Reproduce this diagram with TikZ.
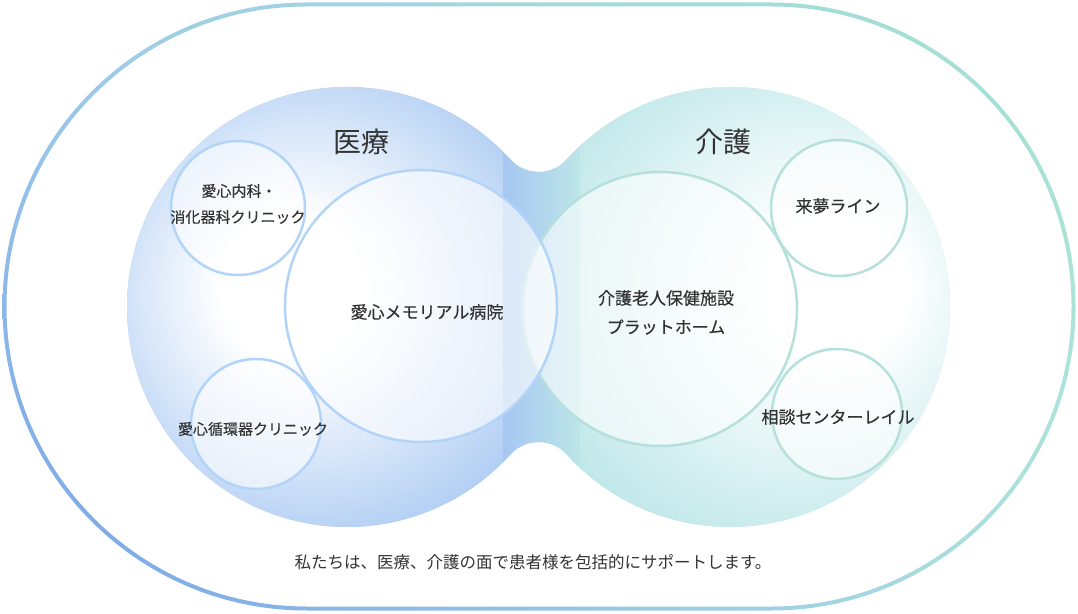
\documentclass[tikz,border=0pt]{standalone}
\usepackage{fontspec}
\usetikzlibrary{shadings}
\newfontfamily\jp{Noto Sans CJK JP}
\newfontfamily\jpb{Noto Sans CJK JP}[FakeBold=0.4]
\definecolor{blueA}{RGB}{166,199,242}
\definecolor{tealA}{RGB}{188,230,232}
\definecolor{strokeB}{RGB}{178,212,248}
\definecolor{strokeT}{RGB}{182,224,220}
\definecolor{txt}{RGB}{51,51,51}
\definecolor{ringLL}{RGB}{120,162,232}
\definecolor{ringUL}{RGB}{160,205,232}
\definecolor{ringUR}{RGB}{166,226,210}
\definecolor{ringLR}{RGB}{176,228,222}
\pgfdeclareradialshading{leftblob}{\pgfpoint{-7.6bp}{2.7bp}}{color(0bp)=(white); color(8bp)=(white); color(19bp)=(blueA!45!white); color(31bp)=(blueA); color(50bp)=(blueA)}
\pgfdeclareradialshading{rightblob}{\pgfpoint{14.5bp}{2.7bp}}{color(0bp)=(white); color(8bp)=(white); color(19bp)=(tealA!45!white); color(31bp)=(tealA); color(50bp)=(tealA)}
\tikzset{
  discB/.style={circle, draw=strokeB, line width=2.5pt, fill=white, fill opacity=0.6, draw opacity=1, inner sep=0pt},
  discT/.style={circle, draw=strokeT, line width=2.5pt, fill=white, fill opacity=0.6, draw opacity=1, inner sep=0pt},
  ttl/.style={text=txt, font=\jp\fontsize{28pt}{32pt}\selectfont, inner sep=0pt},
  lbl/.style={text=txt, font=\jpb\fontsize{17pt}{20pt}\selectfont, inner sep=0pt},
  slbl/.style={text=txt, font=\jpb\fontsize{15pt}{18pt}\selectfont, inner sep=0pt},
  captext/.style={text=txt, font=\jp\fontsize{16.5pt}{19pt}\selectfont, inner sep=0pt}
}
\begin{document}
\begin{tikzpicture}[x=1pt,y=1pt]
\useasboundingbox (0,0) rectangle (1078,613);
% outer ring
\shade[even odd rule, lower left=ringLL, upper left=ringUL, upper right=ringUR, lower right=ringLR]
  (306.5,610.5) arc[start angle=90,end angle=270,radius=304pt] -- (771.5,2.5) arc[start angle=-90,end angle=90,radius=304pt] -- cycle
  (306.5,606.5) arc[start angle=90,end angle=270,radius=300pt] -- (771.5,6.5) arc[start angle=-90,end angle=90,radius=300pt] -- cycle;
% blobs
\begin{scope}
\clip (510.2,453.6) arc[start angle=42.13,end angle=317.87,radius=220pt]
  arc[start angle=137.87,end angle=42.13,radius=38.2pt]
  arc[start angle=222.13,end angle=497.87,radius=220pt]
  arc[start angle=317.87,end angle=222.13,radius=38.2pt] -- cycle;
\fill[blueA] (0,0) rectangle (540,613);
\fill[tealA] (540,0) rectangle (1078,613);
\shade[shading=rightblob] (730,306) circle[radius=220pt];
\shade[shading=leftblob] (347,306) circle[radius=220pt];
\shade[left color=blueA, right color=tealA] (503,0) rectangle (580,613);
\end{scope}
% circles
\node[discT, minimum size=274pt] (roken) at (660,304) {};
\node[discB, minimum size=272pt] (hosp) at (421,307) {};
\node[discB, minimum size=134pt] (naika) at (238,405) {};
\node[discB, minimum size=130pt] (junkan) at (256,189) {};
\node[discT, minimum size=136pt] (raimu) at (839,405) {};
\node[discT, minimum size=130pt] (sodan) at (837,199) {};
% titles
\node[ttl] (iryo) at (361,471) {医療};
\node[ttl] (kaigo) at (723,471) {介護};
% labels
\node[lbl] (hospT) at (427,301) {愛心メモリアル病院};
\node[lbl] (rokenA) at (666,315) {介護老人保健施設};
\node[lbl] (rokenB) at (666,286) {プラットホーム};
\node[slbl] (naikaA) at (239,422) {愛心内科・};
\node[slbl] (naikaB) at (238,396) {消化器科クリニック};
\node[slbl] (junkanT) at (253,184) {愛心循環器クリニック};
\node[lbl] (raimuT) at (838,407) {来夢ライン};
\node[lbl] (sodanT) at (838,196) {相談センターレイル};
\node[captext] (caption) at (533,51) {私たちは、医療、介護の面で患者様を包括的にサポートします。};
\end{tikzpicture}
\end{document}
